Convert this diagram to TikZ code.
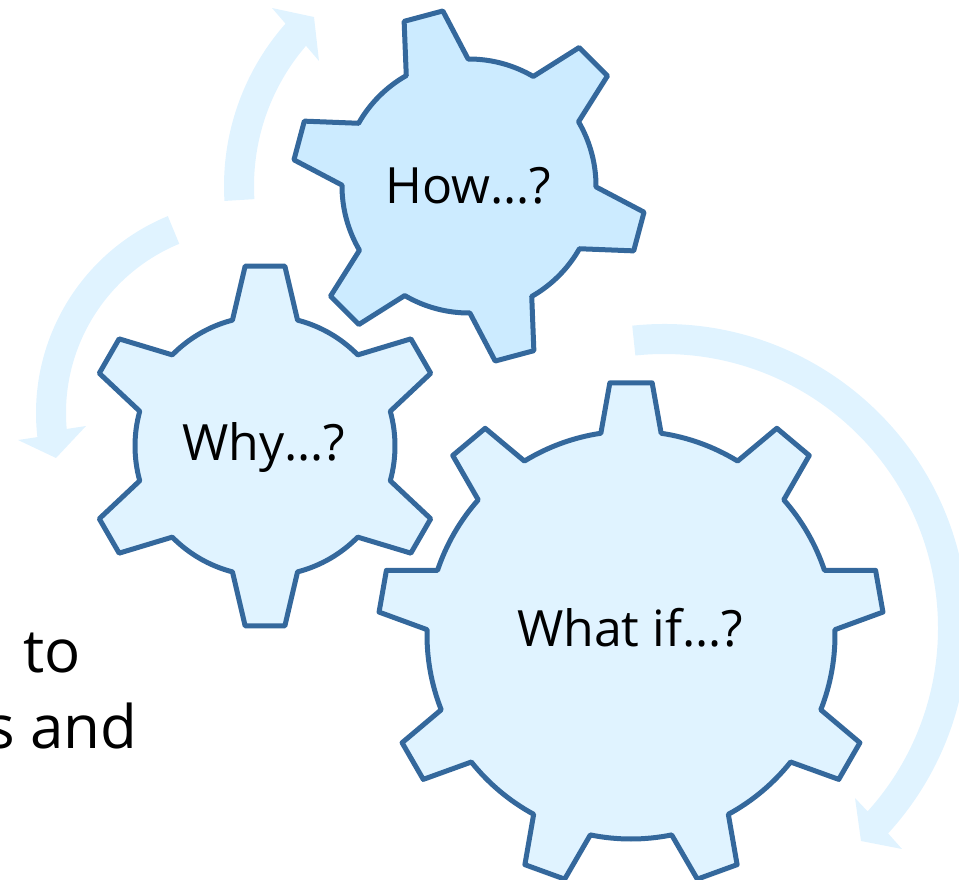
\documentclass[tikz,border=0pt]{standalone}
\usepackage{fontspec}
\setmainfont{Open Sans}
\definecolor{gearline}{HTML}{34689C}
\definecolor{gearfill}{HTML}{E0F3FF}
\definecolor{gearfilltop}{HTML}{CCEBFF}
\definecolor{turnfill}{HTML}{E0F3FF}
\begin{document}
\begin{tikzpicture}[
	x=1pt,
	y=1pt,
	gear/.style={
		draw=gearline,
		line width=5pt,
		line join=round,
		fill=gearfill
	},
	turn/.style={
		fill=turnfill
	},
	gearlabel/.style={
		inner sep=0pt,
		anchor=base,
		font=\fontsize{50}{50}\selectfont
	},
	sidetext/.style={
		inner sep=0pt,
		anchor=base west,
		font=\fontsize{60}{60}\selectfont
	},
]

\useasboundingbox (0,0) rectangle (959,-879);

\coordinate (cwhy) at (265,-446);
\coordinate (chow) at (469,-186);
\coordinate (cwhat) at (631,-635);
\coordinate (tup) at (469,-186);
\coordinate (tleft) at (249,-413);
\coordinate (tright) at (664,-628);

% turning arrows
\fill[turn] ([shift={(tup)}]183.5:245) arc[start angle=183.5,end angle=138.5,radius=245]
	-- (272,-8) -- (314,-17) -- (319,-61)
	-- ([shift={(tup)}]139.3:215) arc[start angle=139.3,end angle=183.5,radius=215] -- cycle;
\fill[turn] ([shift={(tleft)}]112.4:213) arc[start angle=112.4,end angle=186.5,radius=213]
	-- (18,-440) -- (56,-458) -- (86,-426)
	-- ([shift={(tleft)}]185:183) arc[start angle=185,end angle=112.4,radius=183] -- cycle;
\fill[turn] ([shift={(tright)}]96:304) arc[start angle=96,end angle=-42.5,radius=304]
	-- (902,-849) -- (861,-841) -- (855,-798)
	-- ([shift={(tright)}]-42:274) arc[start angle=-42,end angle=96,radius=274] -- cycle;

% gears
\draw[gear] ([shift={(cwhy)}]104.5:130)
	\foreach \a in {90,30,-30,-90,-150,-210} {
		-- ([shift={(cwhy)}]{\a+6.3}:181) -- ([shift={(cwhy)}]{\a-6.3}:181)
		-- ([shift={(cwhy)}]{\a-14.5}:130) arc[start angle=\a-14.5,end angle=\a-45.5,radius=130]
	} -- cycle;

\draw[gear,fill=gearfilltop] ([shift={(chow)}]119.6:127)
	\foreach \a in {105,45,-15,-75,-135,-195} {
		-- ([shift={(chow)}]{\a+6.5}:177) -- ([shift={(chow)}]{\a-6.5}:177)
		-- ([shift={(chow)}]{\a-14.6}:127) arc[start angle=\a-14.6,end angle=\a-45.4,radius=127]
	} -- cycle;

\draw[gear] ([shift={(cwhat)}]98.5:204)
	\foreach \a in {90,50,10,-30,-70,-110,-150,-190,-230} {
		-- ([shift={(cwhat)}]{\a+4.8}:253) -- ([shift={(cwhat)}]{\a-4.8}:253)
		-- ([shift={(cwhat)}]{\a-8.5}:204) arc[start angle=\a-8.5,end angle=\a-31.5,radius=204]
	} -- cycle;

\node[gearlabel] (why) at (263.5,-460) {Why…?};
\node[gearlabel] (how) at (468.5,-203) {How…?};
\node[gearlabel] (what) at (630,-646) {What if…?};

\node[sidetext] (to) at (23,-672) {to};
\node[sidetext] (sand) at (-14,-748) {s and};

\end{tikzpicture}
\end{document}
